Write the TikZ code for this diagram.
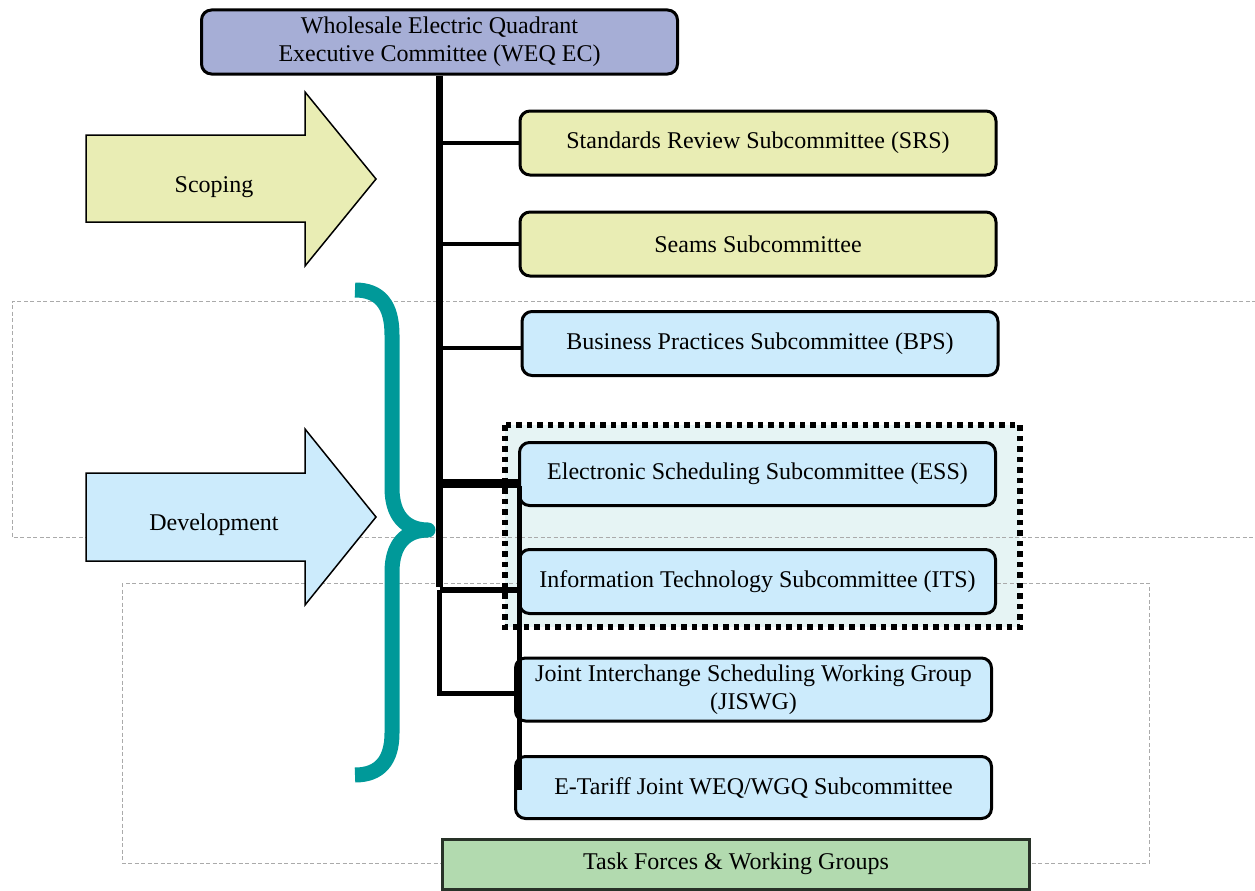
\documentclass[tikz,border=0pt]{standalone}
\usepackage{fontspec}
\setmainfont{Liberation Serif}
\definecolor{lav}{RGB}{166,174,214}
\definecolor{ylw}{RGB}{233,237,180}
\definecolor{lblue}{RGB}{204,235,252}
\definecolor{lgreen}{RGB}{178,218,175}
\definecolor{teal2}{RGB}{0,153,153}
\definecolor{grpfill}{RGB}{230,244,244}
\definecolor{dashgray}{RGB}{170,170,170}
\begin{document}
\begin{tikzpicture}[x=1pt,y=-1pt,
  box/.style={draw=black, line width=3pt, rounded corners=10pt, align=center,
    inner sep=0pt, font=\fontsize{24}{28}\selectfont, text=black,
    minimum width=476pt, minimum height=64pt},
  lbl/.style={font=\fontsize{24}{28}\selectfont, text=black, inner sep=0pt},
  bigarrow/.style={draw=black, line width=1.5pt, line join=miter},
  guide/.style={draw=dashgray, line width=1pt, dash pattern=on 4pt off 2.5pt},
  branch/.style={draw=black, line width=4.5pt},
  trunk/.style={draw=black, line width=7.5pt},
  brace/.style={draw=teal2, line width=15pt, line join=round}]
\useasboundingbox (0,0) rectangle (1255,891);

% group box fill (ESS / ITS)
\fill[grpfill] (505,425) rectangle (1020,627);

% dashed guide outlines
\draw[guide] (1256,301) -- (12,301) -- (12,537) -- (1256,537);
\draw[guide] (122,583) rectangle (1149,863);

% group box border
\draw[black, line width=5.5pt, dash pattern=on 5.5pt off 5pt] (505,425) rectangle (1020,627);

% big arrows
\draw[bigarrow, fill=ylw] (86,135) -- (305,135) -- (305,92) -- (376,179) -- (305,266) -- (305,222) -- (86,222) -- cycle;
\node[lbl] (scoping) at (214,187) {Scoping};
\draw[bigarrow, fill=lblue] (86,473) -- (305,473) -- (305,429) -- (376,517) -- (305,605) -- (305,561) -- (86,561) -- cycle;
\node[lbl] (development) at (214,525) {Development};

% teal brace
\draw[brace] (355,290) .. controls (380,290) and (392,305) .. (392,335) -- (392,488)
  .. controls (392,515) and (405,530) .. (428,530)
  .. controls (405,530) and (392,545) .. (392,572) -- (392,733)
  .. controls (392,760) and (380,775) .. (355,775);

% boxes
\node[box, fill=lav, minimum width=476pt, minimum height=64pt] (weq) at (439.5,42)
  {Wholesale Electric Quadrant\\Executive Committee (WEQ EC)};
\node[box, fill=ylw] (srs) at (758,143) {Standards Review Subcommittee (SRS)};
\node[box, fill=ylw] (seams) at (758,244) {Seams Subcommittee};
\node[box, fill=lblue] (bps) at (760,343.5) {Business Practices Subcommittee (BPS)};
\node[box, fill=lblue, minimum height=63pt] (ess) at (757.5,474) {Electronic Scheduling Subcommittee (ESS)};
\node[box, fill=lblue] (its) at (757.5,581.5) {Information Technology Subcommittee (ITS)};
\node[box, fill=lblue, minimum height=63pt] (jiswg) at (753.5,689.5)
  {Joint Interchange Scheduling Working Group\\(JISWG)};
\node[box, fill=lblue, minimum height=62pt] (etariff) at (753.5,787.5) {E-Tariff Joint WEQ/WGQ Subcommittee};
\node[box, fill=lgreen, rounded corners=0pt, draw={rgb,255:red,40;green,50;blue,40},
  minimum width=587pt, minimum height=50pt] (task) at (736,864) {Task Forces \& Working Groups};

% junction coordinates
\coordinate (jsrs) at (439.5,143);
\coordinate (jseams) at (439.5,244);
\coordinate (jbps) at (439.5,348);
\coordinate (jess) at (439.5,483);
\coordinate (jits) at (439.5,590);
\coordinate (jjis) at (439.5,693);
\coordinate (vtop) at (519,483);
\coordinate (vbot) at (519,790);

% connectors
\draw[trunk] (weq.south) -- ([yshift=3pt]jits);
\draw[branch, line width=5pt] (jits) -- (jjis) -- (jiswg.west |- jjis);
\draw[branch] (jsrs) -- (srs.west);
\draw[branch] (jseams) -- (seams.west);
\draw[branch] (jbps) -- (bps.west |- jbps);
\draw[branch, line width=9pt] (jess) -- ([xshift=2pt]vtop);
\draw[branch, line width=6pt] (jits) -- (its.west |- jits);
\draw[branch, line width=5pt] ([yshift=-3pt]vtop) -- (vbot);
\end{tikzpicture}
\end{document}
